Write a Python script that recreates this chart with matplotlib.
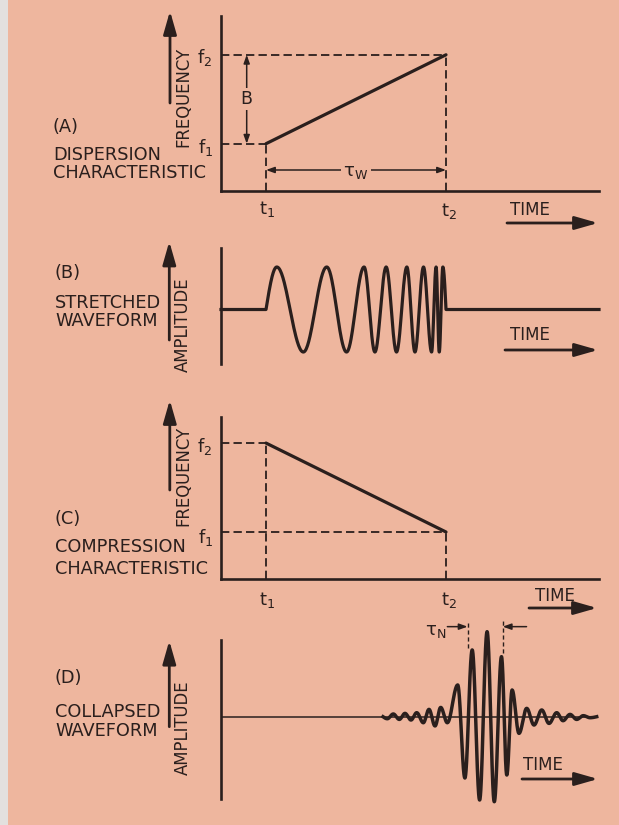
import numpy as np
import matplotlib.pyplot as plt
from matplotlib.patches import Rectangle, FancyArrowPatch, ArrowStyle

plt.rcParams['font.family'] = ['DejaVu Sans']
plt.rcParams['mathtext.fontset'] = 'dejavusans'
plt.rcParams['lines.scale_dashes'] = False

W, H = 619, 825
BG = '#eeb69e'
INK = '#2a1f1d'
DASH = (0, (6, 3))

# diagram values (time units, frequency units)
t_marks = [1.0, 5.0]      # t1, t2
f_marks = [1.0, 2.88]     # f1, f2
t_end = 8.4

# stretched waveform: extrema (time, amplitude)
b_t = [0.0, 1.0, 1.24, 1.83, 2.35, 2.79, 3.18, 3.42, 3.67, 3.90, 4.13,
       4.31, 4.50, 4.68, 4.78, 4.85, 4.93, 5.0, 8.4]
b_a = [0, 0, 1, -1, 1, -1, 1, -1, 1, -1, 1, -1, 1, -1, 1, -1, 1, 0, 0]

# collapsed waveform: extrema (time, amplitude)
d_t = [3.600, 3.696, 3.829, 3.962, 4.089, 4.222, 4.349, 4.496, 4.622, 4.756,
       4.882, 5.029, 5.260, 5.420, 5.582, 5.747, 5.913, 6.073, 6.233, 6.351,
       6.469, 6.622, 6.793, 6.956, 7.127, 7.289, 7.460, 7.600, 7.756, 7.904,
       8.051, 8.200, 8.349]
d_a = [0, -0.024, 0.032, -0.032, 0.039, -0.039, 0.047, -0.071, 0.086, -0.109,
       0.109, -0.071, 0.373, -0.721, 0.785, -0.980, 1.000, -1.000, 0.706, -0.686,
       0.314, -0.196, 0.098, -0.098, 0.079, -0.079, 0.047, -0.047, 0.027, -0.032,
       0.012, -0.012, 0]

tau_n = [5.48, 6.26]


def through_extrema(ts, amps, n=40):
    xs, ys = [ts[0]], [amps[0]]
    for x0, y0, x1, y1 in zip(ts[:-1], amps[:-1], ts[1:], amps[1:]):
        s = np.linspace(0, 1, n)[1:]
        if y0 == 0 and y1 == 0:
            y = np.zeros_like(s)
        elif y0 == 0:
            y = y1 * np.sin(np.pi / 2 * s)
        elif y1 == 0:
            y = y0 * np.cos(np.pi / 2 * s)
        else:
            y = y0 + (y1 - y0) * (1 - np.cos(np.pi * s)) / 2
        xs.extend(x0 + (x1 - x0) * s)
        ys.extend(y)
    return np.array(xs), np.array(ys)


fig = plt.figure(figsize=(W / 100, H / 100), dpi=100)
fig.patch.set_facecolor(BG)
fig.add_artist(Rectangle((0, 0), 8 / W, 1, transform=fig.transFigure,
                         facecolor='#e3e0de', edgecolor='none'))


def panel(top, bottom, ylim, xaxis=True):
    ax = fig.add_axes([221 / W, 1 - bottom / H, 378 / W, (bottom - top) / H])
    ax.set_xlim(0, t_end)
    ax.set_ylim(*ylim)
    ax.patch.set_visible(False)
    ax.set_xticks([])
    ax.set_yticks([])
    for k, sp in ax.spines.items():
        sp.set_color(INK)
        sp.set_linewidth(1.9)
        if k in ('top', 'right') or (k == 'bottom' and not xaxis):
            sp.set_visible(False)
    return ax


def label(x, y, s, size=12.8, **kw):
    kw.setdefault('ha', 'left')
    kw.setdefault('va', 'center')
    fig.text(x / W, 1 - y / H, s, color=INK, fontsize=size, **kw)


def arrow(x0, y0, x1, y1):
    fig.add_artist(FancyArrowPatch(
        (x0 / W, 1 - y0 / H), (x1 / W, 1 - y1 / H), transform=fig.transFigure,
        arrowstyle=ArrowStyle('-|>', head_length=14, head_width=4),
        mutation_scale=1, lw=2.0, color=INK, shrinkA=0, shrinkB=0))


small = dict(mutation_scale=1, lw=1.1, color=INK, shrinkA=0, shrinkB=0)
t1, t2 = t_marks
f1, f2 = f_marks

# (A) dispersion characteristic
axA = panel(16, 191, (0, 3.7))
axA.plot([t1, t2], [f1, f2], color=INK, lw=2.3, solid_capstyle='round')
axA.plot([0, t2], [f2, f2], color=INK, lw=1.3, ls=DASH)
axA.plot([0, t1], [f1, f1], color=INK, lw=1.3, ls=DASH)
axA.plot([t1, t1], [0, f1], color=INK, lw=1.3, ls=DASH)
axA.plot([t2, t2], [0, f2], color=INK, lw=1.3, ls=DASH)
axA.annotate('', xy=(0.571, f2), xytext=(0.571, f1),
             arrowprops=dict(arrowstyle=ArrowStyle('<|-|>', head_length=5, head_width=1.8), **small))
axA.text(0.571, (f1 + f2) / 2, 'B', color=INK, fontsize=12.5, ha='center', va='center',
         bbox=dict(facecolor=BG, edgecolor='none', pad=1.5))
axA.annotate('', xy=(t2, 0.444), xytext=(t1, 0.444),
             arrowprops=dict(arrowstyle=ArrowStyle('<|-|>', head_length=5, head_width=1.8), **small))
axA.text(3.0, 0.40, r'$\mathregular{\tau_W}$', color=INK, fontsize=13, ha='center', va='center',
         bbox=dict(facecolor=BG, edgecolor='none', pad=2))

label(53, 127, '(A)')
label(53, 154.5, 'DISPERSION')
label(53, 172.5, 'CHARACTERISTIC')
label(183.5, 97, 'FREQUENCY', size=11.9, rotation=90, ha='center')
arrow(170, 103, 170, 11)
label(205, 57, r'$\mathregular{f_2}$', size=13, ha='center')
label(206, 147, r'$\mathregular{f_1}$', size=13, ha='center')
label(267, 209, r'$\mathregular{t_1}$', size=13, ha='center')
label(449, 211, r'$\mathregular{t_2}$', size=13, ha='center')
label(530, 210, 'TIME', size=12, ha='center')
arrow(507, 223, 598, 223)

# (B) stretched waveform
axB = panel(248, 364, (-1.282, 1.447), xaxis=False)
bx, by = through_extrema(b_t, b_a)
axB.plot(bx, by, color=INK, lw=2.3, solid_joinstyle='round', clip_on=False)

label(55, 273.5, '(B)')
label(55, 303, 'STRETCHED')
label(55, 321.5, 'WAVEFORM')
label(183, 324.5, 'AMPLITUDE', size=11.9, rotation=90, ha='center')
arrow(169.3, 340, 169.3, 241.5)
label(530, 335, 'TIME', size=12, ha='center')
arrow(505, 350, 598, 350)

# (C) compression characteristic
axC = panel(416.7, 579.3, (0, 3.437))
axC.plot([t1, t2], [f2, f1], color=INK, lw=2.3, solid_capstyle='round')
axC.plot([0, t1], [f2, f2], color=INK, lw=1.3, ls=DASH)
axC.plot([0, t2], [f1, f1], color=INK, lw=1.3, ls=DASH)
axC.plot([t1, t1], [0, f2], color=INK, lw=1.3, ls=DASH)
axC.plot([t2, t2], [0, f1], color=INK, lw=1.3, ls=DASH)

label(55, 518.5, '(C)')
label(55, 546.5, 'COMPRESSION')
label(55, 568.5, 'CHARACTERISTIC')
label(183.6, 476, 'FREQUENCY', size=11.9, rotation=90, ha='center')
arrow(169.8, 490, 169.8, 400)
label(205, 446, r'$\mathregular{f_2}$', size=13, ha='center')
label(206, 537, r'$\mathregular{f_1}$', size=13, ha='center')
label(267, 600, r'$\mathregular{t_1}$', size=13, ha='center')
label(449, 600, r'$\mathregular{t_2}$', size=13, ha='center')
label(555, 596, 'TIME', size=12, ha='center')
arrow(529, 608, 597, 608)

# (D) collapsed waveform
axD = panel(640, 799, (-0.968, 0.902), xaxis=False)
axD.plot([0, d_t[-1]], [0, 0], color=INK, lw=1.1)
dx, dy = through_extrema(d_t, d_a)
axD.plot(dx, dy, color=INK, lw=2.5, solid_joinstyle='round', clip_on=False)
for tn, top, bot in zip(tau_n, [1.118, 1.137], [0.808, 0.749]):
    axD.plot([tn, tn], [bot, top], color=INK, lw=1.0, ls=(0, (3, 2)), clip_on=False)
axD.annotate('', xy=(tau_n[0], 1.059), xytext=(5.03, 1.059), annotation_clip=False,
             arrowprops=dict(arrowstyle=ArrowStyle('-|>', head_length=5, head_width=1.8), **small))
axD.annotate('', xy=(tau_n[1], 1.059), xytext=(6.79, 1.059), annotation_clip=False,
             arrowprops=dict(arrowstyle=ArrowStyle('-|>', head_length=5, head_width=1.8), **small))
label(436, 631, r'$\mathregular{\tau_N}$', size=13, ha='center')

label(55, 678.3, '(D)')
label(55, 711.7, 'COLLAPSED')
label(55, 730.7, 'WAVEFORM')
label(183.3, 727.5, 'AMPLITUDE', size=11.9, rotation=90, ha='center')
arrow(169.3, 726.7, 169.3, 640.7)
label(543, 765, 'TIME', size=12, ha='center')
arrow(522, 779, 598, 779)

fig.savefig('out.png', dpi=100, facecolor=BG)
